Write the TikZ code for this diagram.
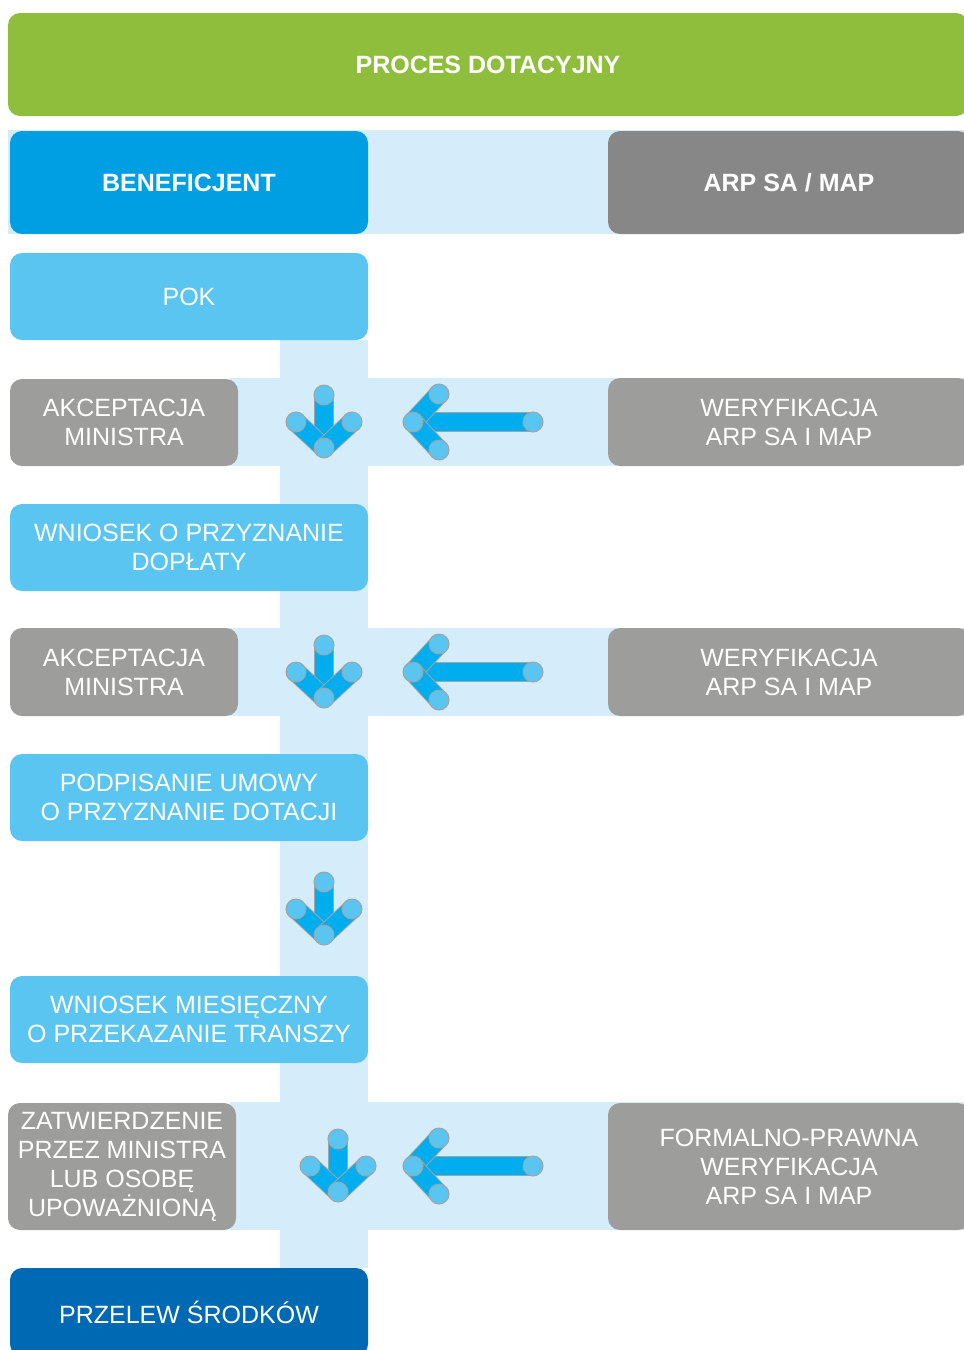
\documentclass[tikz,border=0pt]{standalone}
\usepackage{fontspec}
\setmainfont{Liberation Sans}
\usepackage{xcolor}

\definecolor{procgreen}{HTML}{8EBE3B}
\definecolor{bandblue}{HTML}{D5ECFA}
\definecolor{benefblue}{HTML}{009FE3}
\definecolor{headgray}{HTML}{878787}
\definecolor{stepblue}{HTML}{5BC5F1}
\definecolor{stepgray}{HTML}{9D9D9C}
\definecolor{darkblue}{HTML}{0069B4}
\definecolor{tubeblue}{HTML}{00ADEF}
\definecolor{tubeend}{HTML}{5BC5F2}
\definecolor{tubeedge}{HTML}{A3A3A3}

\tikzset{
  box/.style={rounded corners=12pt,text=white,align=center,inner sep=0pt,
    font=\fontsize{25}{29}\selectfont},
  headbox/.style={box,font=\bfseries\fontsize{25}{29}\selectfont},
  tube/.style={draw=tubeedge,line width=1pt,double=tubeblue,double distance=18pt},
  pics/tubearrow/.style={code={
    \draw[tube] (0,0) -- (0,-#1);
    \draw[tube] (0,0) -- (-28,-26);
    \draw[tube] (0,0) -- (28,-26);
    \foreach \p in {(0,-#1),(-28,-26),(28,-26),(0,0)}
      \filldraw[fill=tubeend,draw=tubeedge,line width=1pt] \p circle (10pt);
  }}
}

\begin{document}
\begin{tikzpicture}[x=1pt,y=-1pt]
  \useasboundingbox (0,0) rectangle (964,1350);

  % background bands
  \fill[bandblue] (8,130) rectangle (964,234);
  \fill[bandblue] (280,340) rectangle (368,1268);
  \fill[bandblue] (230,378) rectangle (964,466);
  \fill[bandblue] (230,628) rectangle (964,716);
  \fill[bandblue] (230,1102) rectangle (964,1230);

  % header
  \node[headbox,fill=procgreen,minimum width=960,minimum height=103] (proces) at (488,64.5) {PROCES DOTACYJNY};
  \node[headbox,fill=benefblue,minimum width=358,minimum height=103] (benef) at (189,182.5) {BENEFICJENT};
  \node[headbox,fill=headgray,minimum width=362,minimum height=103] (arp) at (789,182.5) {ARP SA / MAP};

  % beneficjent steps
  \node[box,fill=stepblue,minimum width=358,minimum height=87] (pok) at (189,296.5) {POK};
  \node[box,fill=stepgray,minimum width=228,minimum height=87] (akc1) at (124,422.5) {AKCEPTACJA\\MINISTRA};
  \node[box,fill=stepblue,minimum width=358,minimum height=87] (wniosek) at (189,547.5) {WNIOSEK O PRZYZNANIE\\DOPŁATY};
  \node[box,fill=stepgray,minimum width=228,minimum height=88] (akc2) at (124,672) {AKCEPTACJA\\MINISTRA};
  \node[box,fill=stepblue,minimum width=358,minimum height=87] (umowa) at (189,797.5) {PODPISANIE UMOWY\\O PRZYZNANIE DOTACJI};
  \node[box,fill=stepblue,minimum width=358,minimum height=87] (miesiac) at (189,1019.5) {WNIOSEK MIESIĘCZNY\\O PRZEKAZANIE TRANSZY};
  \node[box,fill=stepgray,minimum width=228,minimum height=127] (zatw) at (122,1166.5) {ZATWIERDZENIE\\PRZEZ MINISTRA\\LUB OSOBĘ\\UPOWAŻNIONĄ};
  \node[box,fill=darkblue,minimum width=358,minimum height=88] (przelew) at (189,1312) {PRZELEW ŚRODKÓW};

  % ARP SA / MAP steps
  \node[box,fill=stepgray,minimum width=362,minimum height=88] (wer1) at (789,422) {WERYFIKACJA\\ARP SA I MAP};
  \node[box,fill=stepgray,minimum width=362,minimum height=88] (wer2) at (789,672) {WERYFIKACJA\\ARP SA I MAP};
  \node[box,fill=stepgray,minimum width=362,minimum height=127] (formal) at (789,1166.5) {FORMALNO-PRAWNA\\WERYFIKACJA\\ARP SA I MAP};

  % arrows
  \pic at (324,448) {tubearrow=53};
  \pic[rotate=-90] at (413,422) {tubearrow=120};
  \pic at (324,698) {tubearrow=53};
  \pic[rotate=-90] at (413,672) {tubearrow=120};
  \pic at (324,935) {tubearrow=53};
  \pic at (338,1192) {tubearrow=53};
  \pic[rotate=-90] at (413,1166) {tubearrow=120};
\end{tikzpicture}
\end{document}
